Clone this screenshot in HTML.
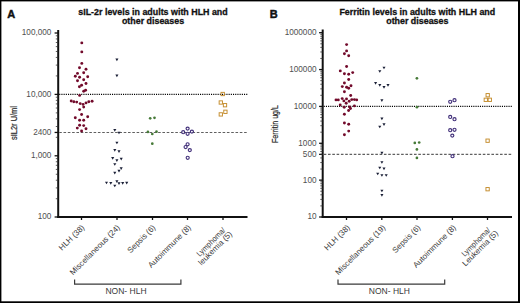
<!DOCTYPE html>
<html><head><meta charset="utf-8"><style>
html,body{margin:0;padding:0;background:#fff;}
body{width:520px;height:303px;overflow:hidden;position:relative;}
svg{position:absolute;left:0;top:0;font-family:"Liberation Sans", sans-serif;}
</style></head><body>
<svg width="520" height="303" viewBox="0 0 520 303">
<rect x="0" y="0" width="520" height="303" fill="#fff"/>
<line x1="58.2" y1="30" x2="58.2" y2="218" stroke="#111" stroke-width="2"/>
<line x1="57.2" y1="217" x2="247.5" y2="217" stroke="#111" stroke-width="2"/>
<line x1="54.6" y1="33.0" x2="58.2" y2="33.0" stroke="#111" stroke-width="1.3"/>
<text x="51.400000000000006" y="35.1" font-size="8.2" text-anchor="end" fill="#505050" font-weight="normal" >100,000</text>
<line x1="54.6" y1="94.4" x2="58.2" y2="94.4" stroke="#111" stroke-width="1.3"/>
<text x="51.400000000000006" y="96.5" font-size="8.2" text-anchor="end" fill="#505050" font-weight="normal" >10,000</text>
<line x1="54.6" y1="132.45502975890741" x2="58.2" y2="132.45502975890741" stroke="#111" stroke-width="1.3"/>
<text x="51.400000000000006" y="134.5550297589074" font-size="8.2" text-anchor="end" fill="#505050" font-weight="normal" >2400</text>
<line x1="54.6" y1="155.8" x2="58.2" y2="155.8" stroke="#111" stroke-width="1.3"/>
<text x="51.400000000000006" y="157.9" font-size="8.2" text-anchor="end" fill="#505050" font-weight="normal" >1,000</text>
<line x1="54.6" y1="217" x2="58.2" y2="217" stroke="#111" stroke-width="1.3"/>
<text x="51.400000000000006" y="219.1" font-size="8.2" text-anchor="end" fill="#505050" font-weight="normal" >100</text>
<line x1="55.800000000000004" y1="75.92" x2="58.2" y2="75.92" stroke="#333" stroke-width="0.8"/>
<line x1="55.800000000000004" y1="65.10" x2="58.2" y2="65.10" stroke="#333" stroke-width="0.8"/>
<line x1="55.800000000000004" y1="57.43" x2="58.2" y2="57.43" stroke="#333" stroke-width="0.8"/>
<line x1="55.800000000000004" y1="51.48" x2="58.2" y2="51.48" stroke="#333" stroke-width="0.8"/>
<line x1="55.800000000000004" y1="46.62" x2="58.2" y2="46.62" stroke="#333" stroke-width="0.8"/>
<line x1="55.800000000000004" y1="42.51" x2="58.2" y2="42.51" stroke="#333" stroke-width="0.8"/>
<line x1="55.800000000000004" y1="38.95" x2="58.2" y2="38.95" stroke="#333" stroke-width="0.8"/>
<line x1="55.800000000000004" y1="35.81" x2="58.2" y2="35.81" stroke="#333" stroke-width="0.8"/>
<line x1="55.800000000000004" y1="137.32" x2="58.2" y2="137.32" stroke="#333" stroke-width="0.8"/>
<line x1="55.800000000000004" y1="126.50" x2="58.2" y2="126.50" stroke="#333" stroke-width="0.8"/>
<line x1="55.800000000000004" y1="118.83" x2="58.2" y2="118.83" stroke="#333" stroke-width="0.8"/>
<line x1="55.800000000000004" y1="112.88" x2="58.2" y2="112.88" stroke="#333" stroke-width="0.8"/>
<line x1="55.800000000000004" y1="108.02" x2="58.2" y2="108.02" stroke="#333" stroke-width="0.8"/>
<line x1="55.800000000000004" y1="103.91" x2="58.2" y2="103.91" stroke="#333" stroke-width="0.8"/>
<line x1="55.800000000000004" y1="100.35" x2="58.2" y2="100.35" stroke="#333" stroke-width="0.8"/>
<line x1="55.800000000000004" y1="97.21" x2="58.2" y2="97.21" stroke="#333" stroke-width="0.8"/>
<line x1="55.800000000000004" y1="198.72" x2="58.2" y2="198.72" stroke="#333" stroke-width="0.8"/>
<line x1="55.800000000000004" y1="187.90" x2="58.2" y2="187.90" stroke="#333" stroke-width="0.8"/>
<line x1="55.800000000000004" y1="180.23" x2="58.2" y2="180.23" stroke="#333" stroke-width="0.8"/>
<line x1="55.800000000000004" y1="174.28" x2="58.2" y2="174.28" stroke="#333" stroke-width="0.8"/>
<line x1="55.800000000000004" y1="169.42" x2="58.2" y2="169.42" stroke="#333" stroke-width="0.8"/>
<line x1="55.800000000000004" y1="165.31" x2="58.2" y2="165.31" stroke="#333" stroke-width="0.8"/>
<line x1="55.800000000000004" y1="161.75" x2="58.2" y2="161.75" stroke="#333" stroke-width="0.8"/>
<line x1="55.800000000000004" y1="158.61" x2="58.2" y2="158.61" stroke="#333" stroke-width="0.8"/>
<line x1="81.5" y1="217" x2="81.5" y2="220" stroke="#111" stroke-width="1.3"/>
<line x1="117" y1="217" x2="117" y2="220" stroke="#111" stroke-width="1.3"/>
<line x1="152.5" y1="217" x2="152.5" y2="220" stroke="#111" stroke-width="1.3"/>
<line x1="187.5" y1="217" x2="187.5" y2="220" stroke="#111" stroke-width="1.3"/>
<line x1="223" y1="217" x2="223" y2="220" stroke="#111" stroke-width="1.3"/>
<line x1="59.2" y1="94.4" x2="247.5" y2="94.4" stroke="#000" stroke-width="1.15" stroke-dasharray="1.1 1.1"/>
<line x1="59.2" y1="132.45502975890741" x2="247.5" y2="132.45502975890741" stroke="#606060" stroke-width="1.1" stroke-dasharray="2.6 1.7"/>
<circle cx="81.8" cy="42.9" r="1.45" fill="#720a2b"/>
<circle cx="81.8" cy="51.9" r="1.45" fill="#720a2b"/>
<circle cx="81.8" cy="63.4" r="1.45" fill="#720a2b"/>
<circle cx="79.5" cy="67.8" r="1.45" fill="#720a2b"/>
<circle cx="86" cy="69.3" r="1.45" fill="#720a2b"/>
<circle cx="77.5" cy="73.4" r="1.45" fill="#720a2b"/>
<circle cx="83.7" cy="72.8" r="1.45" fill="#720a2b"/>
<circle cx="75.3" cy="76.3" r="1.45" fill="#720a2b"/>
<circle cx="79.6" cy="77.2" r="1.45" fill="#720a2b"/>
<circle cx="87.7" cy="76.8" r="1.45" fill="#720a2b"/>
<circle cx="77.5" cy="80.8" r="1.45" fill="#720a2b"/>
<circle cx="83.7" cy="79.8" r="1.45" fill="#720a2b"/>
<circle cx="86" cy="83.5" r="1.45" fill="#720a2b"/>
<circle cx="79.4" cy="86.7" r="1.45" fill="#720a2b"/>
<circle cx="81.6" cy="85.2" r="1.45" fill="#720a2b"/>
<circle cx="83.7" cy="91.3" r="1.45" fill="#720a2b"/>
<circle cx="85.6" cy="90.2" r="1.45" fill="#720a2b"/>
<circle cx="79.6" cy="95.4" r="1.45" fill="#720a2b"/>
<circle cx="71.2" cy="101" r="1.45" fill="#720a2b"/>
<circle cx="73.8" cy="101.8" r="1.45" fill="#720a2b"/>
<circle cx="76.7" cy="102.1" r="1.45" fill="#720a2b"/>
<circle cx="80.2" cy="103.6" r="1.45" fill="#720a2b"/>
<circle cx="83.1" cy="104.4" r="1.45" fill="#720a2b"/>
<circle cx="86" cy="102.9" r="1.45" fill="#720a2b"/>
<circle cx="88.8" cy="101.8" r="1.45" fill="#720a2b"/>
<circle cx="92.1" cy="101.2" r="1.45" fill="#720a2b"/>
<circle cx="83.7" cy="107.1" r="1.45" fill="#720a2b"/>
<circle cx="79.6" cy="109.6" r="1.45" fill="#720a2b"/>
<circle cx="81.6" cy="114.5" r="1.45" fill="#720a2b"/>
<circle cx="75.3" cy="117.7" r="1.45" fill="#720a2b"/>
<circle cx="87.7" cy="116.8" r="1.45" fill="#720a2b"/>
<circle cx="79.6" cy="120.3" r="1.45" fill="#720a2b"/>
<circle cx="83.7" cy="120.3" r="1.45" fill="#720a2b"/>
<circle cx="79.6" cy="125.3" r="1.45" fill="#720a2b"/>
<circle cx="83.7" cy="125.6" r="1.45" fill="#720a2b"/>
<circle cx="77.3" cy="128.1" r="1.45" fill="#720a2b"/>
<circle cx="86" cy="128.7" r="1.45" fill="#720a2b"/>
<circle cx="81.6" cy="131" r="1.45" fill="#720a2b"/>
<path d="M115.35,58.55L118.45,58.55L116.90,61.26Z" fill="#1a1f36"/>
<path d="M115.35,74.55L118.45,74.55L116.90,77.26Z" fill="#1a1f36"/>
<path d="M113.25,128.95L116.35,128.95L114.80,131.66Z" fill="#1a1f36"/>
<path d="M117.45,131.65L120.55,131.65L119.00,134.36Z" fill="#1a1f36"/>
<path d="M115.35,141.65L118.45,141.65L116.90,144.36Z" fill="#1a1f36"/>
<path d="M113.25,148.95L116.35,148.95L114.80,151.66Z" fill="#1a1f36"/>
<path d="M117.45,150.35L120.55,150.35L119.00,153.06Z" fill="#1a1f36"/>
<path d="M111.15,157.05L114.25,157.05L112.70,159.76Z" fill="#1a1f36"/>
<path d="M115.35,159.35L118.45,159.35L116.90,162.06Z" fill="#1a1f36"/>
<path d="M119.65,157.75L122.75,157.75L121.20,160.46Z" fill="#1a1f36"/>
<path d="M113.25,163.15L116.35,163.15L114.80,165.86Z" fill="#1a1f36"/>
<path d="M119.65,167.25L122.75,167.25L121.20,169.96Z" fill="#1a1f36"/>
<path d="M117.45,169.75L120.55,169.75L119.00,172.46Z" fill="#1a1f36"/>
<path d="M113.25,171.85L116.35,171.85L114.80,174.56Z" fill="#1a1f36"/>
<path d="M104.95,181.65L108.05,181.65L106.50,184.36Z" fill="#1a1f36"/>
<path d="M109.25,182.05L112.35,182.05L110.80,184.76Z" fill="#1a1f36"/>
<path d="M115.35,180.35L118.45,180.35L116.90,183.06Z" fill="#1a1f36"/>
<path d="M117.45,182.35L120.55,182.35L119.00,185.06Z" fill="#1a1f36"/>
<path d="M121.15,182.05L124.25,182.05L122.70,184.76Z" fill="#1a1f36"/>
<path d="M125.15,181.85L128.25,181.85L126.70,184.56Z" fill="#1a1f36"/>
<path d="M113.25,184.65L116.35,184.65L114.80,187.36Z" fill="#1a1f36"/>
<circle cx="150.2" cy="118.3" r="1.35" fill="#467a38"/>
<circle cx="154.5" cy="117.8" r="1.35" fill="#467a38"/>
<circle cx="147.9" cy="131.9" r="1.35" fill="#467a38"/>
<circle cx="152.3" cy="134" r="1.35" fill="#467a38"/>
<circle cx="156.5" cy="131.7" r="1.35" fill="#467a38"/>
<circle cx="152.3" cy="143.7" r="1.35" fill="#467a38"/>
<circle cx="183.2" cy="132.2" r="1.55" fill="none" stroke="#42307a" stroke-width="1.15"/>
<circle cx="187.6" cy="128.6" r="1.55" fill="none" stroke="#42307a" stroke-width="1.15"/>
<circle cx="187.6" cy="133.8" r="1.55" fill="none" stroke="#42307a" stroke-width="1.15"/>
<circle cx="191.9" cy="131.6" r="1.55" fill="none" stroke="#42307a" stroke-width="1.15"/>
<circle cx="187.6" cy="144.3" r="1.55" fill="none" stroke="#42307a" stroke-width="1.15"/>
<circle cx="185.6" cy="147" r="1.55" fill="none" stroke="#42307a" stroke-width="1.15"/>
<circle cx="189.8" cy="150.1" r="1.55" fill="none" stroke="#42307a" stroke-width="1.15"/>
<circle cx="187.7" cy="157.8" r="1.55" fill="none" stroke="#42307a" stroke-width="1.15"/>
<rect x="221.05" y="92.35" width="3.3" height="3.3" fill="none" stroke="#c48c2c" stroke-width="0.95"/>
<rect x="219.15" y="100.85" width="3.3" height="3.3" fill="none" stroke="#c48c2c" stroke-width="0.95"/>
<rect x="223.35" y="103.55" width="3.3" height="3.3" fill="none" stroke="#c48c2c" stroke-width="0.95"/>
<rect x="223.75" y="110.15" width="3.3" height="3.3" fill="none" stroke="#c48c2c" stroke-width="0.95"/>
<rect x="219.15" y="112.75" width="3.3" height="3.3" fill="none" stroke="#c48c2c" stroke-width="0.95"/>
<text transform="translate(17.1,123) rotate(-90)" font-size="8.4" text-anchor="middle" fill="#2a2a2a" stroke="#2a2a2a" stroke-width="0.2" textLength="34" lengthAdjust="spacingAndGlyphs">sIL2r U/ml</text>
<text x="153" y="15.2" font-size="8.9" font-weight="bold" text-anchor="middle" fill="#111" stroke="#111" stroke-width="0.3">sIL-2r levels in adults with HLH and</text>
<text x="153" y="23.7" font-size="8.9" font-weight="bold" text-anchor="middle" fill="#111" stroke="#111" stroke-width="0.3">other diseases</text>
<text x="7.3" y="17.8" font-size="11" font-weight="bold" fill="#111" stroke="#111" stroke-width="0.45">A</text>
<text transform="translate(85.0,228) rotate(-45)" font-size="8" text-anchor="end" fill="#3a3a3a">HLH (38)</text>
<text transform="translate(120.5,228) rotate(-45)" font-size="8" text-anchor="end" fill="#3a3a3a">Miscellaneous (24)</text>
<text transform="translate(156.0,228) rotate(-45)" font-size="8" text-anchor="end" fill="#3a3a3a">Sepsis (6)</text>
<text transform="translate(191.5,228) rotate(-45)" font-size="8" text-anchor="end" fill="#3a3a3a">Autoimmune (8)</text>
<text transform="translate(225.4,228.8) rotate(-45)" font-size="8" text-anchor="middle" fill="#3a3a3a"><tspan x="-19.6" y="1.8" textLength="37" lengthAdjust="spacingAndGlyphs">Lymphoma/</tspan><tspan x="-21" y="9.2">leukemia (5)</tspan></text>
<path d="M74.6,279.5V284.2H180.9V279.5" fill="none" stroke="#3a3a3a" stroke-width="1.2"/>
<text x="126" y="293.8" font-size="8.5" text-anchor="middle" fill="#3a3a3a">NON- HLH</text>
<line x1="322.7" y1="29.5" x2="322.7" y2="218" stroke="#111" stroke-width="2"/>
<line x1="321.7" y1="217" x2="512" y2="217" stroke="#111" stroke-width="2"/>
<line x1="319.09999999999997" y1="32.7" x2="322.7" y2="32.7" stroke="#111" stroke-width="1.3"/>
<text x="316.5" y="35.1" font-size="8.2" text-anchor="end" fill="#505050" font-weight="normal" >1000000</text>
<line x1="319.09999999999997" y1="69.56" x2="322.7" y2="69.56" stroke="#111" stroke-width="1.3"/>
<text x="316.5" y="71.96000000000001" font-size="8.2" text-anchor="end" fill="#505050" font-weight="normal" >100000</text>
<line x1="319.09999999999997" y1="106.42" x2="322.7" y2="106.42" stroke="#111" stroke-width="1.3"/>
<text x="316.5" y="108.82000000000001" font-size="8.2" text-anchor="end" fill="#505050" font-weight="normal" >10000</text>
<line x1="319.09999999999997" y1="143.28" x2="322.7" y2="143.28" stroke="#111" stroke-width="1.3"/>
<text x="316.5" y="145.68" font-size="8.2" text-anchor="end" fill="#505050" font-weight="normal" >1000</text>
<line x1="319.09999999999997" y1="154.37596564017434" x2="322.7" y2="154.37596564017434" stroke="#111" stroke-width="1.3"/>
<text x="316.5" y="156.77596564017435" font-size="8.2" text-anchor="end" fill="#505050" font-weight="normal" >500</text>
<line x1="319.09999999999997" y1="180.14" x2="322.7" y2="180.14" stroke="#111" stroke-width="1.3"/>
<text x="316.5" y="182.54" font-size="8.2" text-anchor="end" fill="#505050" font-weight="normal" >100</text>
<line x1="319.09999999999997" y1="217" x2="322.7" y2="217" stroke="#111" stroke-width="1.3"/>
<text x="316.5" y="219.4" font-size="8.2" text-anchor="end" fill="#505050" font-weight="normal" >10</text>
<line x1="320.3" y1="58.46" x2="322.7" y2="58.46" stroke="#333" stroke-width="0.8"/>
<line x1="320.3" y1="51.97" x2="322.7" y2="51.97" stroke="#333" stroke-width="0.8"/>
<line x1="320.3" y1="47.37" x2="322.7" y2="47.37" stroke="#333" stroke-width="0.8"/>
<line x1="320.3" y1="43.80" x2="322.7" y2="43.80" stroke="#333" stroke-width="0.8"/>
<line x1="320.3" y1="40.88" x2="322.7" y2="40.88" stroke="#333" stroke-width="0.8"/>
<line x1="320.3" y1="38.41" x2="322.7" y2="38.41" stroke="#333" stroke-width="0.8"/>
<line x1="320.3" y1="36.27" x2="322.7" y2="36.27" stroke="#333" stroke-width="0.8"/>
<line x1="320.3" y1="34.39" x2="322.7" y2="34.39" stroke="#333" stroke-width="0.8"/>
<line x1="320.3" y1="95.32" x2="322.7" y2="95.32" stroke="#333" stroke-width="0.8"/>
<line x1="320.3" y1="88.83" x2="322.7" y2="88.83" stroke="#333" stroke-width="0.8"/>
<line x1="320.3" y1="84.23" x2="322.7" y2="84.23" stroke="#333" stroke-width="0.8"/>
<line x1="320.3" y1="80.66" x2="322.7" y2="80.66" stroke="#333" stroke-width="0.8"/>
<line x1="320.3" y1="77.74" x2="322.7" y2="77.74" stroke="#333" stroke-width="0.8"/>
<line x1="320.3" y1="75.27" x2="322.7" y2="75.27" stroke="#333" stroke-width="0.8"/>
<line x1="320.3" y1="73.13" x2="322.7" y2="73.13" stroke="#333" stroke-width="0.8"/>
<line x1="320.3" y1="71.25" x2="322.7" y2="71.25" stroke="#333" stroke-width="0.8"/>
<line x1="320.3" y1="132.18" x2="322.7" y2="132.18" stroke="#333" stroke-width="0.8"/>
<line x1="320.3" y1="125.69" x2="322.7" y2="125.69" stroke="#333" stroke-width="0.8"/>
<line x1="320.3" y1="121.09" x2="322.7" y2="121.09" stroke="#333" stroke-width="0.8"/>
<line x1="320.3" y1="117.52" x2="322.7" y2="117.52" stroke="#333" stroke-width="0.8"/>
<line x1="320.3" y1="114.60" x2="322.7" y2="114.60" stroke="#333" stroke-width="0.8"/>
<line x1="320.3" y1="112.13" x2="322.7" y2="112.13" stroke="#333" stroke-width="0.8"/>
<line x1="320.3" y1="109.99" x2="322.7" y2="109.99" stroke="#333" stroke-width="0.8"/>
<line x1="320.3" y1="108.11" x2="322.7" y2="108.11" stroke="#333" stroke-width="0.8"/>
<line x1="320.3" y1="169.04" x2="322.7" y2="169.04" stroke="#333" stroke-width="0.8"/>
<line x1="320.3" y1="162.55" x2="322.7" y2="162.55" stroke="#333" stroke-width="0.8"/>
<line x1="320.3" y1="157.95" x2="322.7" y2="157.95" stroke="#333" stroke-width="0.8"/>
<line x1="320.3" y1="154.38" x2="322.7" y2="154.38" stroke="#333" stroke-width="0.8"/>
<line x1="320.3" y1="151.46" x2="322.7" y2="151.46" stroke="#333" stroke-width="0.8"/>
<line x1="320.3" y1="148.99" x2="322.7" y2="148.99" stroke="#333" stroke-width="0.8"/>
<line x1="320.3" y1="146.85" x2="322.7" y2="146.85" stroke="#333" stroke-width="0.8"/>
<line x1="320.3" y1="144.97" x2="322.7" y2="144.97" stroke="#333" stroke-width="0.8"/>
<line x1="320.3" y1="205.90" x2="322.7" y2="205.90" stroke="#333" stroke-width="0.8"/>
<line x1="320.3" y1="199.41" x2="322.7" y2="199.41" stroke="#333" stroke-width="0.8"/>
<line x1="320.3" y1="194.81" x2="322.7" y2="194.81" stroke="#333" stroke-width="0.8"/>
<line x1="320.3" y1="191.24" x2="322.7" y2="191.24" stroke="#333" stroke-width="0.8"/>
<line x1="320.3" y1="188.32" x2="322.7" y2="188.32" stroke="#333" stroke-width="0.8"/>
<line x1="320.3" y1="185.85" x2="322.7" y2="185.85" stroke="#333" stroke-width="0.8"/>
<line x1="320.3" y1="183.71" x2="322.7" y2="183.71" stroke="#333" stroke-width="0.8"/>
<line x1="320.3" y1="181.83" x2="322.7" y2="181.83" stroke="#333" stroke-width="0.8"/>
<line x1="346.5" y1="217" x2="346.5" y2="220" stroke="#111" stroke-width="1.3"/>
<line x1="381.8" y1="217" x2="381.8" y2="220" stroke="#111" stroke-width="1.3"/>
<line x1="417" y1="217" x2="417" y2="220" stroke="#111" stroke-width="1.3"/>
<line x1="452.4" y1="217" x2="452.4" y2="220" stroke="#111" stroke-width="1.3"/>
<line x1="487.5" y1="217" x2="487.5" y2="220" stroke="#111" stroke-width="1.3"/>
<line x1="323.7" y1="106.42" x2="512" y2="106.42" stroke="#000" stroke-width="1.15" stroke-dasharray="1.1 1.1"/>
<line x1="323.7" y1="154.37596564017434" x2="512" y2="154.37596564017434" stroke="#606060" stroke-width="1.1" stroke-dasharray="2.6 1.7"/>
<circle cx="346.6" cy="44.6" r="1.45" fill="#720a2b"/>
<circle cx="346.6" cy="50.9" r="1.45" fill="#720a2b"/>
<circle cx="344.4" cy="53.7" r="1.45" fill="#720a2b"/>
<circle cx="348.7" cy="55.8" r="1.45" fill="#720a2b"/>
<circle cx="346.6" cy="66.5" r="1.45" fill="#720a2b"/>
<circle cx="340.3" cy="70.9" r="1.45" fill="#720a2b"/>
<circle cx="344.4" cy="73.8" r="1.45" fill="#720a2b"/>
<circle cx="348.7" cy="74.3" r="1.45" fill="#720a2b"/>
<circle cx="352.7" cy="72.6" r="1.45" fill="#720a2b"/>
<circle cx="348.7" cy="79.5" r="1.45" fill="#720a2b"/>
<circle cx="344.4" cy="83" r="1.45" fill="#720a2b"/>
<circle cx="342.3" cy="86.6" r="1.45" fill="#720a2b"/>
<circle cx="346.6" cy="87.2" r="1.45" fill="#720a2b"/>
<circle cx="348.7" cy="88.3" r="1.45" fill="#720a2b"/>
<circle cx="351" cy="85.7" r="1.45" fill="#720a2b"/>
<circle cx="344.4" cy="91.8" r="1.45" fill="#720a2b"/>
<circle cx="350.7" cy="95.5" r="1.45" fill="#720a2b"/>
<circle cx="336" cy="99.9" r="1.45" fill="#720a2b"/>
<circle cx="338.3" cy="99.9" r="1.45" fill="#720a2b"/>
<circle cx="342.2" cy="98.6" r="1.45" fill="#720a2b"/>
<circle cx="343.9" cy="100.9" r="1.45" fill="#720a2b"/>
<circle cx="346.5" cy="98.9" r="1.45" fill="#720a2b"/>
<circle cx="346.2" cy="103.2" r="1.45" fill="#720a2b"/>
<circle cx="349.2" cy="101.2" r="1.45" fill="#720a2b"/>
<circle cx="351.8" cy="99.6" r="1.45" fill="#720a2b"/>
<circle cx="354.4" cy="99.6" r="1.45" fill="#720a2b"/>
<circle cx="356.7" cy="99.9" r="1.45" fill="#720a2b"/>
<circle cx="340.2" cy="104.9" r="1.45" fill="#720a2b"/>
<circle cx="344.2" cy="107.2" r="1.45" fill="#720a2b"/>
<circle cx="349.5" cy="106.9" r="1.45" fill="#720a2b"/>
<circle cx="354.4" cy="105.9" r="1.45" fill="#720a2b"/>
<circle cx="350.5" cy="108.5" r="1.45" fill="#720a2b"/>
<circle cx="348.6" cy="110.5" r="1.45" fill="#720a2b"/>
<circle cx="344.4" cy="114.3" r="1.45" fill="#720a2b"/>
<circle cx="344.4" cy="123" r="1.45" fill="#720a2b"/>
<circle cx="348.7" cy="124.2" r="1.45" fill="#720a2b"/>
<circle cx="348.7" cy="131.1" r="1.45" fill="#720a2b"/>
<circle cx="344.4" cy="134.8" r="1.45" fill="#720a2b"/>
<path d="M382.45,66.65L385.55,66.65L384.00,69.36Z" fill="#1a1f36"/>
<path d="M378.25,70.15L381.35,70.15L379.80,72.86Z" fill="#1a1f36"/>
<path d="M374.05,81.95L377.15,81.95L375.60,84.66Z" fill="#1a1f36"/>
<path d="M378.25,83.95L381.35,83.95L379.80,86.66Z" fill="#1a1f36"/>
<path d="M382.45,85.95L385.55,85.95L384.00,88.66Z" fill="#1a1f36"/>
<path d="M386.45,83.95L389.55,83.95L388.00,86.66Z" fill="#1a1f36"/>
<path d="M380.35,99.35L383.45,99.35L381.90,102.06Z" fill="#1a1f36"/>
<path d="M380.35,117.45L383.45,117.45L381.90,120.16Z" fill="#1a1f36"/>
<path d="M382.45,123.25L385.55,123.25L384.00,125.96Z" fill="#1a1f36"/>
<path d="M378.25,125.65L381.35,125.65L379.80,128.36Z" fill="#1a1f36"/>
<path d="M380.35,151.75L383.45,151.75L381.90,154.46Z" fill="#1a1f36"/>
<path d="M380.35,161.15L383.45,161.15L381.90,163.86Z" fill="#1a1f36"/>
<path d="M378.25,166.65L381.35,166.65L379.80,169.36Z" fill="#1a1f36"/>
<path d="M382.45,167.55L385.55,167.55L384.00,170.26Z" fill="#1a1f36"/>
<path d="M376.15,172.65L379.25,172.65L377.70,175.36Z" fill="#1a1f36"/>
<path d="M380.35,174.15L383.45,174.15L381.90,176.86Z" fill="#1a1f36"/>
<path d="M384.65,174.15L387.75,174.15L386.20,176.86Z" fill="#1a1f36"/>
<path d="M380.35,189.65L383.45,189.65L381.90,192.36Z" fill="#1a1f36"/>
<path d="M380.35,193.95L383.45,193.95L381.90,196.66Z" fill="#1a1f36"/>
<circle cx="416.9" cy="78.3" r="1.35" fill="#467a38"/>
<circle cx="416.9" cy="107.2" r="1.35" fill="#467a38"/>
<circle cx="414.8" cy="142.9" r="1.35" fill="#467a38"/>
<circle cx="419.2" cy="142.5" r="1.35" fill="#467a38"/>
<circle cx="416.9" cy="149.4" r="1.35" fill="#467a38"/>
<circle cx="416.9" cy="157.9" r="1.35" fill="#467a38"/>
<circle cx="450.2" cy="101.8" r="1.55" fill="none" stroke="#42307a" stroke-width="1.15"/>
<circle cx="454.5" cy="100.2" r="1.55" fill="none" stroke="#42307a" stroke-width="1.15"/>
<circle cx="450.2" cy="116.9" r="1.55" fill="none" stroke="#42307a" stroke-width="1.15"/>
<circle cx="454.5" cy="119.2" r="1.55" fill="none" stroke="#42307a" stroke-width="1.15"/>
<circle cx="450.2" cy="130.2" r="1.55" fill="none" stroke="#42307a" stroke-width="1.15"/>
<circle cx="454.5" cy="129.8" r="1.55" fill="none" stroke="#42307a" stroke-width="1.15"/>
<circle cx="452.3" cy="135.6" r="1.55" fill="none" stroke="#42307a" stroke-width="1.15"/>
<circle cx="452.5" cy="156.2" r="1.55" fill="none" stroke="#42307a" stroke-width="1.15"/>
<rect x="486.05" y="93.55" width="3.3" height="3.3" fill="none" stroke="#c48c2c" stroke-width="0.95"/>
<rect x="484.15" y="98.15" width="3.3" height="3.3" fill="none" stroke="#c48c2c" stroke-width="0.95"/>
<rect x="488.15" y="98.15" width="3.3" height="3.3" fill="none" stroke="#c48c2c" stroke-width="0.95"/>
<rect x="485.95" y="139.05" width="3.3" height="3.3" fill="none" stroke="#c48c2c" stroke-width="0.95"/>
<rect x="485.95" y="187.55" width="3.3" height="3.3" fill="none" stroke="#c48c2c" stroke-width="0.95"/>
<text transform="translate(278.2,124) rotate(-90)" font-size="8.4" text-anchor="middle" fill="#2a2a2a" stroke="#2a2a2a" stroke-width="0.2" textLength="38" lengthAdjust="spacingAndGlyphs">Ferritin ug/L</text>
<text x="417.3" y="15.2" font-size="8.9" font-weight="bold" text-anchor="middle" fill="#111" stroke="#111" stroke-width="0.3">Ferritin levels in adults with HLH and</text>
<text x="417.3" y="23.7" font-size="8.9" font-weight="bold" text-anchor="middle" fill="#111" stroke="#111" stroke-width="0.3">other diseases</text>
<text x="269.7" y="17.8" font-size="11" font-weight="bold" fill="#111" stroke="#111" stroke-width="0.45">B</text>
<text transform="translate(350.5,228) rotate(-45)" font-size="8" text-anchor="end" fill="#3a3a3a">HLH (38)</text>
<text transform="translate(386.0,228) rotate(-45)" font-size="8" text-anchor="end" fill="#3a3a3a">Miscellaneous (19)</text>
<text transform="translate(421.0,228) rotate(-45)" font-size="8" text-anchor="end" fill="#3a3a3a">Sepsis (6)</text>
<text transform="translate(456.5,228) rotate(-45)" font-size="8" text-anchor="end" fill="#3a3a3a">Autoimmune (8)</text>
<text transform="translate(490.4,228.8) rotate(-45)" font-size="8" text-anchor="middle" fill="#3a3a3a"><tspan x="-19.6" y="1.8" textLength="37" lengthAdjust="spacingAndGlyphs">Lymphoma/</tspan><tspan x="-21" y="9.2">Leukemia (5)</tspan></text>
<path d="M338,279.5V284.2H444.7V279.5" fill="none" stroke="#3a3a3a" stroke-width="1.2"/>
<text x="389.4" y="293.8" font-size="8.5" text-anchor="middle" fill="#3a3a3a">NON- HLH</text>
<rect x="0" y="0" width="520" height="1.4" fill="#000"/><rect x="0" y="0" width="1.4" height="303" fill="#000"/><rect x="518" y="0" width="2" height="303" fill="#000"/><rect x="0" y="301.3" width="520" height="1.7" fill="#000"/>
</svg>
</body></html>
